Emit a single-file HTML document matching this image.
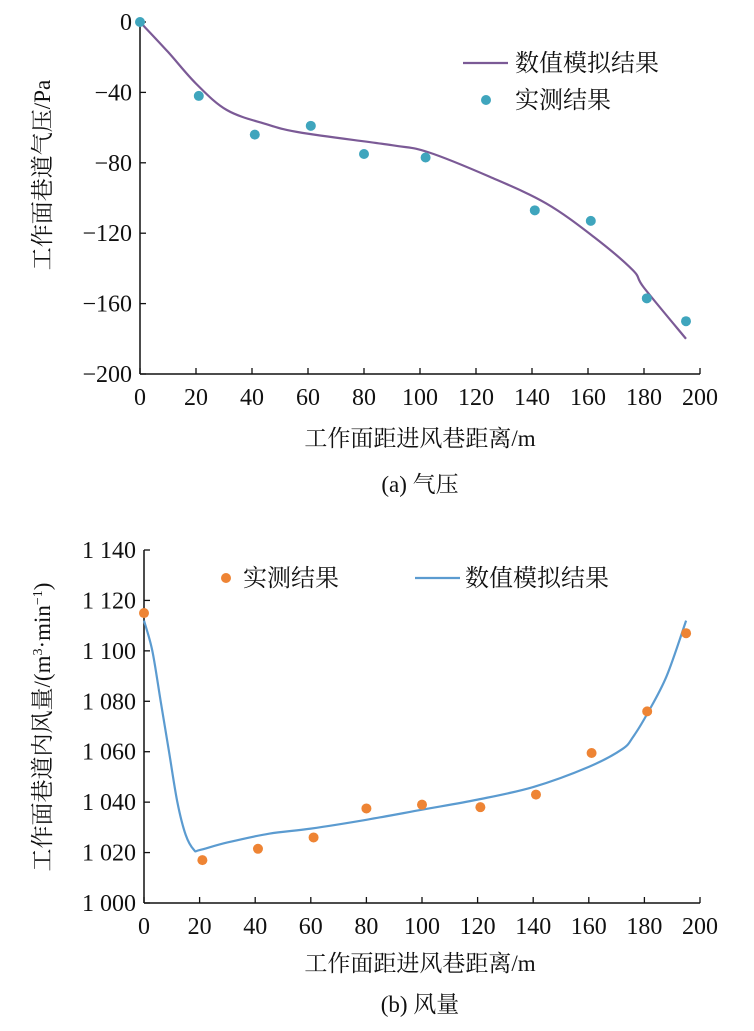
<!DOCTYPE html>
<html><head><meta charset="utf-8"><style>
html,body{margin:0;padding:0;background:#fff;width:754px;height:1031px;overflow:hidden}
svg text{font-family:"Liberation Serif","Noto Serif CJK SC","Noto Sans CJK SC",serif;fill:#111}
</style></head><body>
<svg id="s" width="754" height="1031" xmlns="http://www.w3.org/2000/svg">
<g id="ca"></g>
<g id="cb"></g>
<text x="420" y="446" font-size="23" text-anchor="middle">工作面距进风巷距离/m</text>
<text x="420" y="492" font-size="23" text-anchor="middle">(a)  气压</text>
<text transform="translate(50,175) rotate(-90)" font-size="23" text-anchor="middle">工作面巷道气压/Pa</text>
<text x="420" y="971" font-size="23" text-anchor="middle">工作面距进风巷距离/m</text>
<text x="420" y="1012" font-size="23" text-anchor="middle">(b)  风量</text>
<text transform="translate(50,727) rotate(-90)" font-size="23" text-anchor="middle">工作面巷道内风量/(m<tspan font-size="14" dy="-8">3</tspan><tspan dy="8">·min</tspan><tspan font-size="14" dy="-8">−1</tspan><tspan dy="8">)</tspan></text>
<line x1="463" y1="63" x2="508" y2="63" stroke="#7b5a96" stroke-width="2.2"/>
<text x="515" y="71" font-size="24">数值模拟结果</text>
<circle cx="486" cy="100" r="5" fill="#3fa5bd"/>
<text x="515" y="108" font-size="24">实测结果</text>
<circle cx="226" cy="578" r="5" fill="#ee8434"/>
<text x="243" y="586" font-size="24">实测结果</text>
<line x1="415" y1="578" x2="460" y2="578" stroke="#5b9bd0" stroke-width="2.2"/>
<text x="465" y="586" font-size="24">数值模拟结果</text>
</svg>
<script>
const xTicks=[0,20,40,60,80,100,120,140,160,180,200];
const aYTicks=[0,-40,-80,-120,-160,-200];
const aYLabels=["0","−40","−80","−120","−160","−200"];
const aMeasX=[0,21,41,61,80,102,141,161,181,195];
const aMeasY=[0,-42,-64,-59,-75,-77,-107,-113,-157,-170];
const aSimX=[0,10,20,31,45,58,90,103,125,145,162,176,180,195];
const aSimY=[0,-17,-35,-50,-58,-63,-70,-74,-88,-103,-122,-141,-151,-180];
const bYTicks=[1000,1020,1040,1060,1080,1100,1120,1140];
const bYLabels=["1 000","1 020","1 040","1 060","1 080","1 100","1 120","1 140"];
const bMeasX=[0,21,41,61,80,100,121,141,161,181,195];
const bMeasY=[1115,1017,1021.5,1026,1037.5,1039,1038,1043,1059.5,1076,1107];
const bSimX=[0,3,6,9,12,15,18,20,30,45,60,80,100,120,140,160,172,176,181,188,195];
const bSimY=[1112,1100,1080,1060,1040,1027,1021,1021,1024,1027.5,1029.5,1033,1037,1041,1046,1054,1061,1066,1075,1090,1112];
const NS="http://www.w3.org/2000/svg";
function mk(p,t,a){const e=document.createElementNS(NS,t);for(const k in a)e.setAttribute(k,a[k]);p.appendChild(e);return e;}
function smooth(pts){let d='M'+pts[0][0]+','+pts[0][1];
 for(let i=0;i<pts.length-1;i++){const p0=pts[i-1]||pts[i],p1=pts[i],p2=pts[i+1],p3=pts[i+2]||p2;
  const c1=[p1[0]+(p2[0]-p0[0])/6,p1[1]+(p2[1]-p0[1])/6],c2=[p2[0]-(p3[0]-p1[0])/6,p2[1]-(p3[1]-p1[1])/6];
  d+=' C'+c1+' '+c2+' '+p2;}return d;}
function chart(g,x0,x1,y0,y1,ymin,ymax,yT,yL,mx,my,sx,sy,mc,lc,tag){
 const X=v=>x0+(v-0)/200*(x1-x0), Y=v=>y0-(v-ymin)/(ymax-ymin)*(y0-y1);
 let e=mk(g,'line',{x1:x0,y1:y0,x2:x1,y2:y0,stroke:'#111','stroke-width':1.5});
 
 
 e=mk(g,'line',{x1:x0,y1:y0,x2:x0,y2:y1,stroke:'#111','stroke-width':1.5});
 
 
 xTicks.forEach(v=>{mk(g,'line',{x1:X(v),y1:y0,x2:X(v),y2:y0-6,stroke:'#111','stroke-width':1.3});
  const t=mk(g,'text',{x:X(v),y:y0+31,'font-size':24,'text-anchor':'middle'});t.textContent=v;
  
  });
 yT.forEach((v,i)=>{mk(g,'line',{x1:x0,y1:Y(v),x2:x0+6,y2:Y(v),stroke:'#111','stroke-width':1.3});
  const t=mk(g,'text',{x:x0-8,y:Y(v)+8,'font-size':24,'text-anchor':'end'});t.textContent=yL[i];
  
  });
 const p=mk(g,'path',{d:smooth(sx.map((v,i)=>[X(v),Y(sy[i])])),fill:'none',stroke:lc,'stroke-width':2.2});
 
 
 mx.forEach((v,i)=>{const c=mk(g,'circle',{cx:X(v),cy:Y(my[i]),r:5,fill:mc});
  
  });
}
chart(document.getElementById('ca'),140,700,374,22,-200,0,aYTicks,aYLabels,aMeasX,aMeasY,aSimX,aSimY,'#3fa5bd','#7b5a96','a');
chart(document.getElementById('cb'),144,700,903,550,1000,1140,bYTicks,bYLabels,bMeasX,bMeasY,bSimX,bSimY,'#ee8434','#5b9bd0','b');
</script>
</body></html>
